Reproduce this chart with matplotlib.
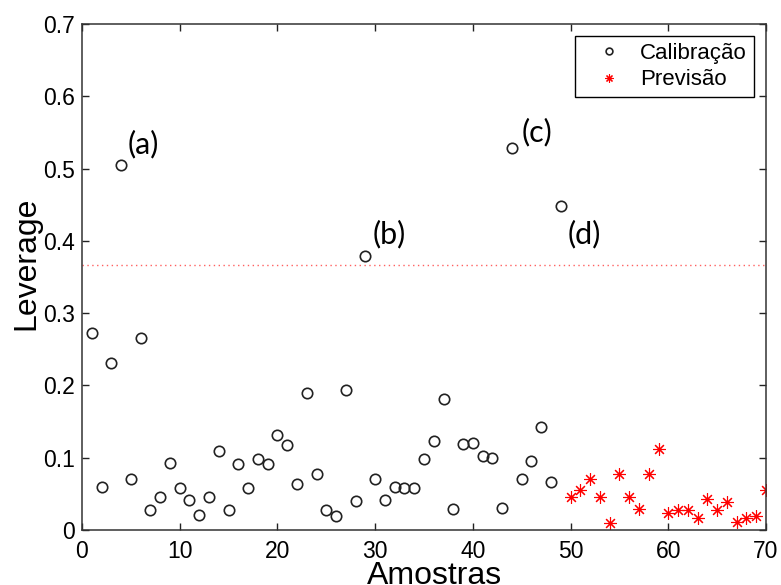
import numpy as np
import matplotlib
matplotlib.use("Agg")
import matplotlib.pyplot as plt

# Leverage values
calib_x = list(range(1, 50))
calib_lev = [0.273, 0.060, 0.231, 0.505, 0.071, 0.265, 0.028, 0.045, 0.093, 0.058,
             0.041, 0.021, 0.045, 0.109, 0.027, 0.091, 0.058, 0.098, 0.091, 0.131,
             0.118, 0.063, 0.190, 0.078, 0.027, 0.019, 0.193, 0.040, 0.379, 0.070,
             0.041, 0.059, 0.058, 0.058, 0.098, 0.123, 0.181, 0.029, 0.119, 0.121,
             0.103, 0.100, 0.031, 0.529, 0.070, 0.095, 0.143, 0.066, 0.448]
prev_x = list(range(50, 71))
prev_lev = [0.045, 0.055, 0.070, 0.045, 0.010, 0.077, 0.046, 0.029, 0.077, 0.112,
            0.023, 0.027, 0.028, 0.017, 0.043, 0.027, 0.039, 0.011, 0.016, 0.020,
            0.055]
limit = 0.367

labels = ['(a)', '(b)', '(c)', '(d)']
label_x = [4.7, 29.7, 45.0, 49.7]
label_y = [0.521, 0.397, 0.537, 0.397]

plt.rcParams['font.family'] = ['Liberation Sans', 'DejaVu Sans']

fig = plt.figure(figsize=(7.81, 5.85), dpi=100)
ax = fig.add_axes([82 / 781, 1 - 530 / 585, (766 - 82) / 781, (530 - 24) / 585])

ax.plot(calib_x, calib_lev, 'o', ls='none', mfc='none', mec='#222222',
        ms=7.5, mew=1.2, label='Calibração')
ax.plot(prev_x, prev_lev, marker=(8, 2, 0), ls='none', color='red',
        ms=9, mew=0.8, label='Previsão')
ax.axhline(limit, color='#ff6060', ls=(0, (1, 2.5)), lw=1.0)

for t, x, y in zip(labels, label_x, label_y):
    ax.text(x, y, t, family='Lato', fontsize=22, ha='left', va='baseline')

ax.set_xlim(0, 70)
ax.set_ylim(0, 0.7)
ax.set_xticks(np.arange(0, 71, 10))
ax.set_yticks(np.arange(0, 0.71, 0.1))
ax.set_yticklabels(['0', '0.1', '0.2', '0.3', '0.4', '0.5', '0.6', '0.7'])
ax.tick_params(direction='in', length=5, width=1, top=True, right=True,
               labelsize=16.5, colors='#222222', labelcolor='black')
ax.tick_params(axis='x', pad=7)
ax.tick_params(axis='y', pad=5)
for s in ax.spines.values():
    s.set_linewidth(1.1)
    s.set_color('#333333')

ax.set_xlabel('Amostras', fontsize=23)
ax.set_ylabel('Leverage', fontsize=23)
ax.xaxis.set_label_coords(0.516, -0.062)
ax.yaxis.set_label_coords(-0.06, 0.528)

leg = ax.legend(loc='upper right', fontsize=16, markerscale=0.65,
                fancybox=False, framealpha=1, edgecolor='black',
                borderaxespad=0.55, handlelength=2.5, handletextpad=0.15,
                labelspacing=0.25, borderpad=0.3)
leg.get_frame().set_linewidth(1.0)

plt.savefig('out.png', dpi=100)
